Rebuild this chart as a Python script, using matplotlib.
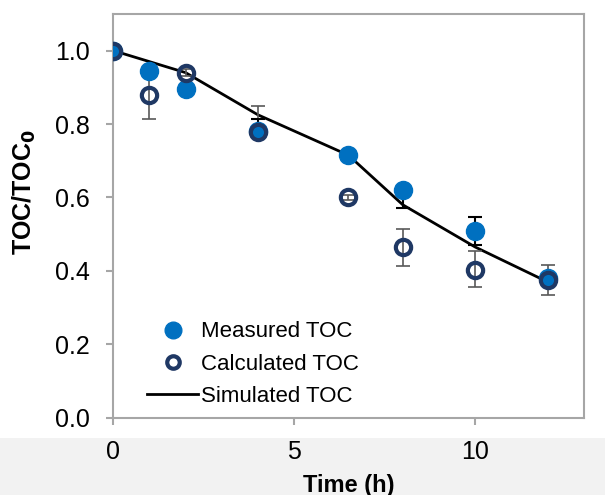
import matplotlib.pyplot as plt
from matplotlib.lines import Line2D
from matplotlib.patches import Rectangle

plt.rcParams['font.family'] = ['Liberation Sans', 'DejaVu Sans']

# data
time_h = [0, 1, 2, 4, 6.5, 8, 10, 12]
measured = [1.0, 0.945, 0.895, 0.78, 0.715, 0.62, 0.508, 0.38]
measured_err_low = [0.0, 0.0, 0.0, 0.0, 0.0, 0.05, 0.038, 0.0]
measured_err_high = [0.0, 0.0, 0.0, 0.033, 0.0, 0.0, 0.04, 0.0]
calculated = [1.0, 0.88, 0.94, 0.778, 0.60, 0.465, 0.402, 0.375]
calculated_err_low = [0.0, 0.065, 0.01, 0.0, 0.008, 0.053, 0.046, 0.04]
calculated_err_high = [0.0, 0.065, 0.01, 0.072, 0.008, 0.05, 0.052, 0.042]
simulated = [1.0, 0.97, 0.94, 0.825, 0.715, 0.58, 0.465, 0.37]

blue = '#0070c0'
navy = '#1f3864'
grey = '#a6a6a6'

fig = plt.figure(figsize=(6.05, 4.95), dpi=100)
# light grey band at the bottom of the screenshot
fig.patches.append(Rectangle((0, 0), 1, 0.115, transform=fig.transFigure,
                             facecolor='#f2f2f2', edgecolor='none', zorder=-1))
ax = fig.add_axes([0.187, 0.156, 0.778, 0.816])

ax.plot(time_h, simulated, color='black', lw=2, zorder=2)

ax.errorbar(time_h, calculated, yerr=[calculated_err_low, calculated_err_high],
            fmt='none', ecolor='#595959', elinewidth=1.2, capsize=5,
            capthick=1.2, zorder=3)
ax.errorbar(time_h, measured, yerr=[measured_err_low, measured_err_high],
            fmt='none', ecolor='black', elinewidth=1.5, capsize=5,
            capthick=1.5, zorder=3)
ax.plot(time_h, measured, 'o', ms=13, color=blue, mec=blue, zorder=4)
ax.plot(time_h, calculated, 'o', ms=11, mfc='none', mec=navy, mew=3, zorder=5)

ax.set_xlim(0, 13)
ax.set_ylim(0, 1.1)
ax.set_xticks([0, 5, 10])
ax.set_yticks([0, 0.2, 0.4, 0.6, 0.8, 1.0])
ax.set_yticklabels(['0.0', '0.2', '0.4', '0.6', '0.8', '1.0'])
for s in ax.spines.values():
    s.set_color(grey)
    s.set_linewidth(1.5)
ax.tick_params(axis='both', colors=grey, labelcolor='black', labelsize=18,
               length=5, width=1.5, direction='out')
ax.tick_params(axis='x', pad=11)
ax.tick_params(axis='y', pad=12)

ax.set_xlabel('Time (h)', fontsize=17, fontweight='bold')
ax.xaxis.set_label_coords(0.5, -0.138)
ax.set_ylabel('TOC/TOC$_\\mathbf{0}$', fontsize=18, fontweight='bold')
ax.yaxis.set_label_coords(-0.16, 0.56)

handles = [
    Line2D([], [], ls='none', marker='o', ms=12, color=blue),
    Line2D([], [], ls='none', marker='o', ms=9, mfc='none', mec=navy, mew=3),
    Line2D([], [], color='black', lw=2),
]
ax.legend(handles, ['Measured TOC', 'Calculated TOC', 'Simulated TOC'],
          loc='lower left', bbox_to_anchor=(0.03, -0.022), frameon=False,
          fontsize=16, handlelength=2.3, handletextpad=0.1, labelspacing=0.5)

fig.savefig('out.png', dpi=100)
